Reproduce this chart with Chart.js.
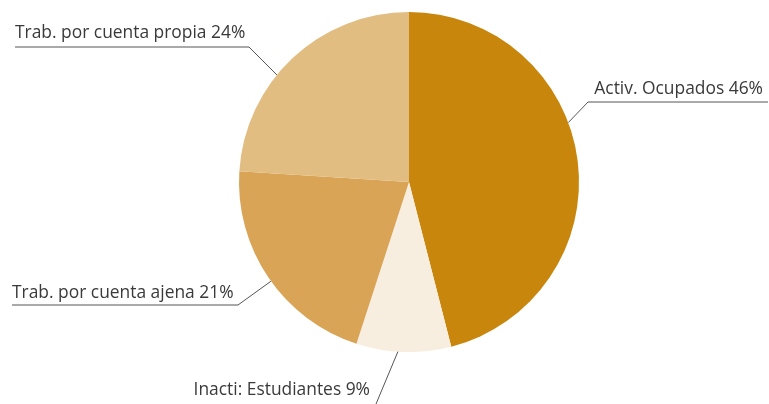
<!DOCTYPE html>
<html>
<head>
<meta charset="utf-8">
<script src="https://cdn.jsdelivr.net/npm/chart.js@4/dist/chart.umd.min.js"></script>
<style>
  html, body { margin: 0; padding: 0; background: #fff; }
  #wrap { width: 769px; height: 404px; position: relative; }
</style>
</head>
<body>
<div id="wrap"><canvas id="pieChart"></canvas></div>
<script>
// Datos
const categorias = ['Activ. Ocupados', 'Inacti: Estudiantes', 'Trab. por cuenta ajena', 'Trab. por cuenta propia'];
const porcentajes = [46, 9, 21, 24];
const colores = ['#C8860D', '#F8EEE0', '#D9A456', '#E2BD82'];

// Etiquetas con linea guia: punto dentro del sector (fraccion), codo y extremo de la linea
const guias = [
    { frac: 0.42, codo: [588, 102], fin: 768, align: 'right', tx: 763, ty: 94 },
    { frac: 0.56, codo: [376, 404], fin: null, align: 'right', tx: 370, ty: 395 },
    { frac: 0.48, codo: [238, 305], fin: 12, align: 'left', tx: 12, ty: 298 },
    { frac: 0.41, codo: [249, 47], fin: 15, align: 'left', tx: 15, ty: 38 }
];

const etiquetasPlugin = {
    id: 'etiquetas',
    afterDatasetsDraw(chart) {
        const ctx = chart.ctx;
        const arcs = chart.getDatasetMeta(0).data;
        ctx.save();
        ctx.strokeStyle = '#555';
        ctx.lineWidth = 1;
        ctx.fillStyle = '#3a3a3a';
        ctx.font = '17.4px "Open Sans", sans-serif';
        ctx.textBaseline = 'alphabetic';
        arcs.forEach((arc, i) => {
            const g = guias[i];
            const a = arc.startAngle + (arc.endAngle - arc.startAngle) * g.frac;
            const x0 = arc.x + Math.cos(a) * arc.outerRadius;
            const y0 = arc.y + Math.sin(a) * arc.outerRadius;
            ctx.beginPath();
            ctx.moveTo(x0, y0);
            ctx.lineTo(g.codo[0], g.codo[1]);
            if (g.fin !== null) ctx.lineTo(g.fin, g.codo[1]);
            ctx.stroke();
            ctx.textAlign = g.align;
            ctx.fillText(categorias[i] + ' ' + porcentajes[i] + '%', g.tx, g.ty);
        });
        ctx.restore();
    }
};

const ctx = document.getElementById('pieChart').getContext('2d');
const pieChart = new Chart(ctx, {
    type: 'pie',
    data: {
        labels: categorias,
        datasets: [{
            data: porcentajes,
            backgroundColor: colores,
            borderWidth: 0
        }]
    },
    options: {
        responsive: true,
        maintainAspectRatio: false,
        animation: false,
        layout: { padding: { left: 239, right: 190, top: 12, bottom: 52 } },
        plugins: {
            legend: { display: false },
            tooltip: { enabled: false }
        }
    },
    plugins: [etiquetasPlugin]
});
</script>
</body>
</html>
